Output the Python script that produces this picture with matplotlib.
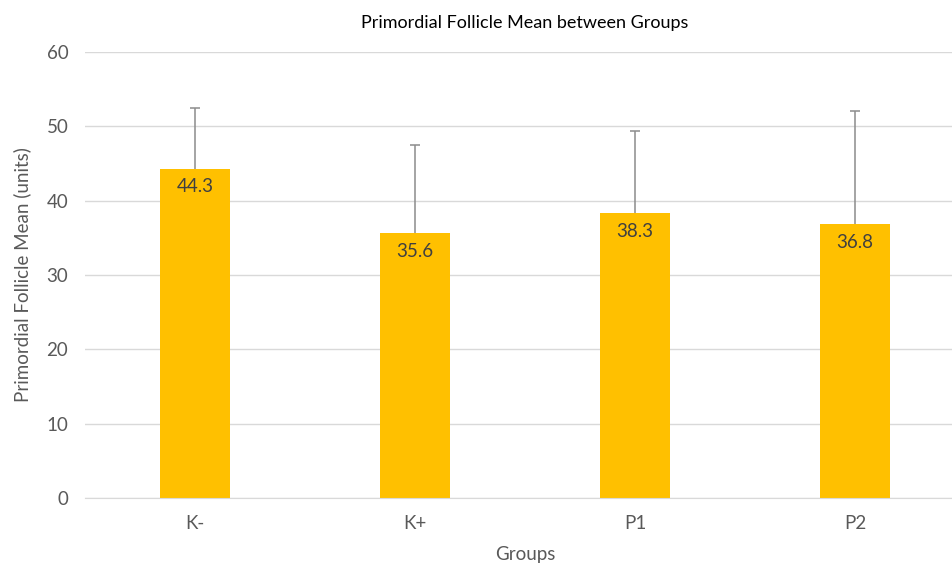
import matplotlib.pyplot as plt
import numpy as np

plt.rcParams['font.family'] = ['Lato', 'DejaVu Sans']

groups = ['K-', 'K+', 'P1', 'P2']
means = [44.3, 35.6, 38.3, 36.8]
sds = [8.2, 11.9, 11.1, 15.3]

fig = plt.figure(figsize=(9.53, 5.63), dpi=100)
ax = fig.add_axes([85 / 953, 65 / 563, 880 / 953, 446 / 563])

x = np.arange(len(groups))
tops = np.array(means) + np.array(sds)
ax.bar(x, means, width=0.32, color='#FFC000', zorder=2)
# upper error bar only (whisker + small cap)
ax.vlines(x, means, tops, color='#8c8c8c', linewidth=1.1, zorder=3)
ax.scatter(x, tops, marker='_', s=60, color='#8c8c8c', linewidths=1.1, zorder=3)

for xi, m in zip(x, means):
    ax.annotate(f'{m}', (xi, m), xytext=(0, -7), textcoords='offset points',
                ha='center', va='top', fontsize=13.5, color='#404040', zorder=4)

ax.set_xlim(-0.5, len(groups) - 0.5)
ax.set_ylim(0, 60)
ax.set_yticks(range(0, 61, 10))
ax.set_xticks(x)
ax.set_xticklabels(groups)
ax.grid(axis='y', color='#d9d9d9', linewidth=1, zorder=0)
for s in ['top', 'right', 'left']:
    ax.spines[s].set_visible(False)
ax.spines['bottom'].set_color('#d9d9d9')
ax.tick_params(axis='both', length=0, labelsize=13.5, labelcolor='#595959', pad=12)
ax.tick_params(axis='x', pad=12)

ax.set_title('Primordial Follicle Mean between Groups', fontsize=13,
             color='#000000', pad=17)
ax.set_ylabel('Primordial Follicle Mean (units)', fontsize=13.5, color='#595959', labelpad=11)
ax.set_xlabel('Groups', fontsize=13.5, color='#595959', labelpad=10)

fig.savefig('out.png', dpi=100)
